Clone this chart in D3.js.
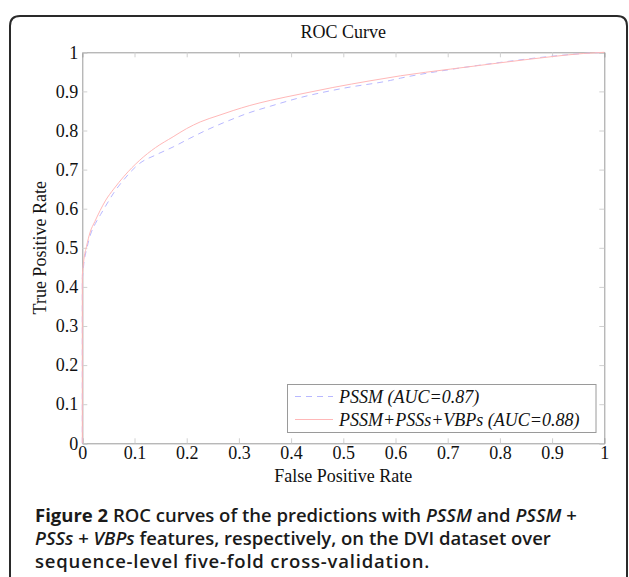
<!DOCTYPE html>
<html><head><meta charset="utf-8">
<script src="https://cdn.jsdelivr.net/npm/d3@7/dist/d3.min.js"></script>
<style>body{margin:0;background:#fff;}svg{display:block;}</style>
</head><body>
<script>
const xTicks = [0,0.1,0.2,0.3,0.4,0.5,0.6,0.7,0.8,0.9,1];
const yTicks = [0,0.1,0.2,0.3,0.4,0.5,0.6,0.7,0.8,0.9,1];
const seriesNames = ["PSSM (AUC=0.87)", "PSSM+PSSs+VBPs (AUC=0.88)"];
const pssmFPR = [0,0,0,0.003,0.009,0.016,0.025,0.035,0.047,0.06,0.08,0.11,0.14,0.174,0.206,0.238,0.28,0.321,0.36,0.417,0.5,0.59,0.61,0.705,0.8,0.9,0.96,1];
const pssmTPR = [0,0.2,0.42,0.46,0.50,0.535,0.562,0.585,0.612,0.64,0.675,0.716,0.737,0.758,0.78,0.801,0.825,0.846,0.862,0.884,0.908,0.928,0.934,0.956,0.974,0.99,0.997,1];
const fullFPR = [0,0,0,0.003,0.008,0.015,0.024,0.034,0.045,0.06,0.08,0.11,0.14,0.174,0.2,0.226,0.26,0.289,0.321,0.36,0.417,0.48,0.551,0.61,0.705,0.8,0.9,0.96,1];
const fullTPR = [0,0.2,0.43,0.47,0.503,0.54,0.567,0.595,0.622,0.65,0.683,0.724,0.756,0.784,0.805,0.822,0.838,0.851,0.864,0.877,0.893,0.910,0.927,0.940,0.957,0.973,0.989,0.997,1];

const W = 629, H = 577;
const svg = d3.select("body").append("svg").attr("width", W).attr("height", H);

svg.append("path")
  .attr("d", "M10,600 L10,26 Q10,16 20,16 L617,16 Q627,16 627,26 L627,600")
  .attr("fill","none").attr("stroke","#2a2a2a").attr("stroke-width",2);

const L = 82.3, R = 604.3, T = 52.3, B = 443.3;
const x = d3.scaleLinear().domain([0,1]).range([L,R]);
const y = d3.scaleLinear().domain([0,1]).range([B,T]);
const serif = "'Liberation Serif', 'Times New Roman', serif";
const axisCol = "#9a9a9a";
const FS = 18;

const fmt = d => d === 0 ? "0" : d === 1 ? "1" : d3.format(".1f")(d);

const gx = svg.append("g").attr("transform",`translate(0,${B})`)
  .call(d3.axisBottom(x).tickValues(xTicks).tickSize(-5).tickPadding(4).tickFormat(fmt));
const gxt = svg.append("g").attr("transform",`translate(0,${T})`)
  .call(d3.axisTop(x).tickValues(xTicks).tickSize(-5).tickFormat(""));
const gy = svg.append("g").attr("transform",`translate(${L},0)`)
  .call(d3.axisLeft(y).tickValues(yTicks).tickSize(-5).tickPadding(4).tickFormat(fmt));
const gyr = svg.append("g").attr("transform",`translate(${R},0)`)
  .call(d3.axisRight(y).tickValues(yTicks).tickSize(-5).tickFormat(""));
[gx,gxt,gy,gyr].forEach(g=>{
  g.select(".domain").attr("stroke",axisCol);
  g.selectAll(".tick line").attr("stroke","#d0d0d0");
  g.selectAll("text").attr("font-family",serif).attr("font-size",FS).attr("fill","#111");
});
gx.selectAll("text").attr("dy","0.66em");
gy.selectAll("text").attr("dy","0.32em");

svg.append("text").attr("x",(L+R)/2).attr("y",22+16).attr("text-anchor","middle")
  .attr("font-family",serif).attr("font-size",FS).attr("fill","#111").text("ROC Curve");
svg.append("text").attr("x",(L+R)/2).attr("y",482).attr("text-anchor","middle")
  .attr("font-family",serif).attr("font-size",FS).attr("fill","#111").text("False Positive Rate");
svg.append("text").attr("transform",`translate(46,${(T+B)/2}) rotate(-90)`).attr("text-anchor","middle")
  .attr("font-family",serif).attr("font-size",FS).attr("fill","#111").text("True Positive Rate");

const line = d3.line().x(d=>x(d[0])).y(d=>y(d[1])).curve(d3.curveMonotoneX);
const lineV = d3.line().x(d=>x(d[0])).y(d=>y(d[1]));
const pssm = pssmFPR.map((f,i)=>[f,pssmTPR[i]]);
const full = fullFPR.map((f,i)=>[f,fullTPR[i]]);
function draw(data, color, dash){
  const vert = data.filter(d=>d[0]===0);
  const rest = data.slice(vert.length-1);
  svg.append("path").attr("d", lineV(vert)).attr("fill","none").attr("stroke",color).attr("stroke-width",1)
    .attr("stroke-dasharray",dash);
  svg.append("path").attr("d", line(rest)).attr("fill","none").attr("stroke",color).attr("stroke-width",1)
    .attr("stroke-dasharray",dash);
}
draw(pssm, "#b8b8ff", "6,5");
draw(full, "#ffb8b8", null);

const lg = svg.append("g");
lg.append("rect").attr("x",287.5).attr("y",384.5).attr("width",308.5).attr("height",48)
  .attr("fill","#fff").attr("stroke",axisCol);
lg.append("line").attr("x1",295).attr("x2",333).attr("y1",396.5).attr("y2",396.5)
  .attr("stroke","#b8b8ff").attr("stroke-dasharray","6,5");
lg.append("line").attr("x1",295).attr("x2",333).attr("y1",419.5).attr("y2",419.5)
  .attr("stroke","#ffb8b8");
seriesNames.forEach((n,i)=>{
  lg.append("text").attr("x",339).attr("y",403+i*23).attr("font-family",serif).attr("font-style","italic")
    .attr("font-size",FS).attr("fill","#111").text(n);
});

const capFont = "'Open Sans', 'Noto Sans', sans-serif";
const cap = [
  [["Figure 2","700",false],[" ROC curves of the predictions with ","600",false],["PSSM","600",true],[" and ","600",false],["PSSM","600",true],[" +","600",false]],
  [["PSSs","600",true],[" + ","600",false],["VBPs","600",true],[" features, respectively, on the DVI dataset over","600",false]],
  [["sequence-level five-fold cross-validation.","600",false]]
];
const capSpacing = [0, 0, 0.8];
cap.forEach((parts,i)=>{
  const t = svg.append("text").attr("x",35).attr("y",522+i*23).attr("font-family",capFont)
    .attr("font-size",18.5).attr("fill","#1a1a1a").attr("letter-spacing",capSpacing[i]);
  parts.forEach(p=>{
    t.append("tspan").attr("font-weight",p[1]).attr("font-style",p[2]?"italic":"normal").text(p[0]);
  });
});
</script>
</body></html>
